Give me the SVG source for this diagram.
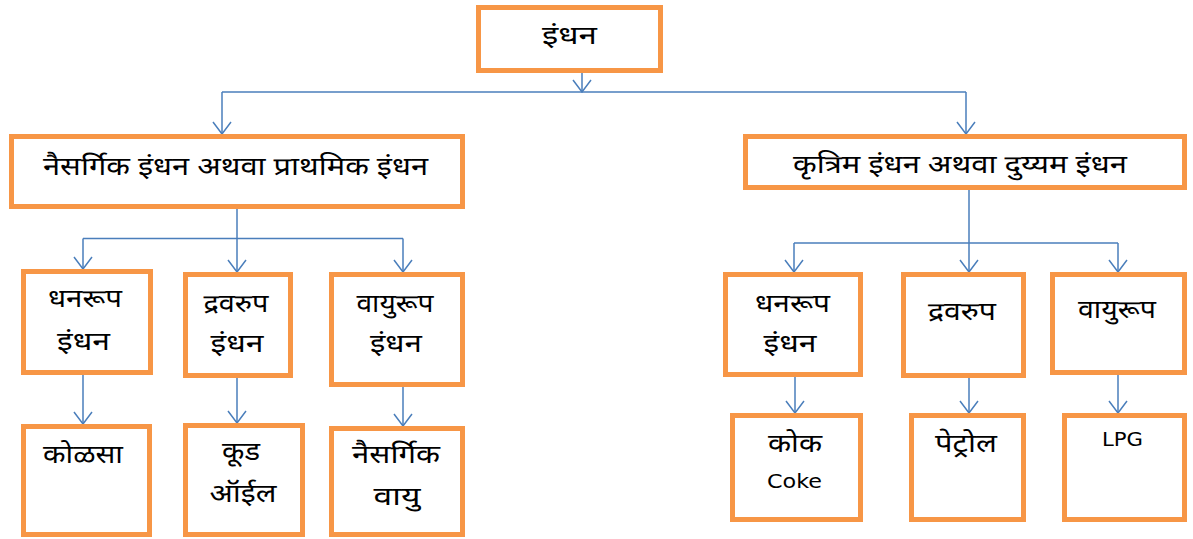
<svg xmlns="http://www.w3.org/2000/svg" width="1193" height="539" viewBox="0 0 1193 539">
  <style>
    .box { fill: #ffffff; stroke: #f79646; stroke-width: 5; }
    .lbl { font-family: "Noto Sans Devanagari", "Mangal", "Lohit Devanagari", "Noto Sans", sans-serif; font-size: 25px; fill: #000000; text-anchor: middle; }
    .lat { font-family: "DejaVu Sans", "Noto Sans", sans-serif; font-size: 20px; fill: #000000; text-anchor: middle; }
    .wire { fill: none; stroke: #4a7ebb; stroke-width: 1.5; }
  </style>
  <defs>
    <!-- open V arrowhead, drawn pointing along +x -->
    <marker id="arrow" viewBox="0 0 14 20" refX="13" refY="10" markerWidth="14" markerHeight="20" markerUnits="userSpaceOnUse" orient="auto">
      <path d="M1,1 L13,10 L1,19" fill="none" stroke="#4a7ebb" stroke-width="1.5"/>
    </marker>
  </defs>
  <rect width="1193" height="539" fill="#ffffff"/>

  <!-- connectors -->
  <g id="connectors" class="wire">
    <line x1="582" y1="73" x2="582" y2="92" marker-end="url(#arrow)"/>
    <line x1="222" y1="92" x2="966" y2="92"/>
    <line x1="222" y1="92" x2="222" y2="134" marker-end="url(#arrow)"/>
    <line x1="966" y1="92" x2="966" y2="134" marker-end="url(#arrow)"/>

    <line x1="237" y1="209" x2="237" y2="238.5"/>
    <line x1="83" y1="238.5" x2="403" y2="238.5"/>
    <line x1="83" y1="238.5" x2="83" y2="269" marker-end="url(#arrow)"/>
    <line x1="237" y1="238.5" x2="237" y2="272" marker-end="url(#arrow)"/>
    <line x1="403" y1="238.5" x2="403" y2="272" marker-end="url(#arrow)"/>

    <line x1="969" y1="190" x2="969" y2="243"/>
    <line x1="794" y1="243" x2="1118" y2="243"/>
    <line x1="794" y1="243" x2="794" y2="272" marker-end="url(#arrow)"/>
    <line x1="969" y1="243" x2="969" y2="272" marker-end="url(#arrow)"/>
    <line x1="1118" y1="243" x2="1118" y2="272" marker-end="url(#arrow)"/>

    <line x1="83" y1="375" x2="83" y2="424" marker-end="url(#arrow)"/>
    <line x1="237" y1="378" x2="237" y2="423" marker-end="url(#arrow)"/>
    <line x1="403" y1="387" x2="403" y2="426" marker-end="url(#arrow)"/>

    <line x1="795" y1="377" x2="795" y2="413" marker-end="url(#arrow)"/>
    <line x1="969" y1="378" x2="969" y2="413" marker-end="url(#arrow)"/>
    <line x1="1118" y1="375" x2="1118" y2="413" marker-end="url(#arrow)"/>
  </g>

  <!-- root -->
  <g id="fuel">
    <rect class="box" x="478.5" y="7.5" width="182" height="63"/>
    <text class="lbl" x="569.5" y="44" font-size="26" textLength="55" lengthAdjust="spacingAndGlyphs">इंधन</text>
  </g>

  <!-- second level -->
  <g id="natural-fuel">
    <rect class="box" x="11.5" y="136.5" width="451" height="70"/>
    <text class="lbl" x="235.5" y="175" textLength="385" lengthAdjust="spacingAndGlyphs">नैसर्गिक इंधन अथवा प्राथमिक इंधन</text>
  </g>
  <g id="artificial-fuel">
    <rect class="box" x="745.5" y="136.5" width="439" height="51"/>
    <text class="lbl" x="960" y="173" textLength="334" lengthAdjust="spacingAndGlyphs">कृत्रिम इंधन अथवा दुय्यम इंधन</text>
  </g>

  <!-- natural: third level -->
  <g id="nat-solid">
    <rect class="box" x="23.5" y="271.5" width="127" height="101"/>
    <text class="lbl" x="85" y="307" textLength="74" lengthAdjust="spacingAndGlyphs">धनरूप</text>
    <text class="lbl" x="83.5" y="350" textLength="53" lengthAdjust="spacingAndGlyphs">इंधन</text>
  </g>
  <g id="nat-liquid">
    <rect class="box" x="185.5" y="274.5" width="105" height="101"/>
    <text class="lbl" x="236" y="312" textLength="65" lengthAdjust="spacingAndGlyphs">द्रवरुप</text>
    <text class="lbl" x="237" y="352" textLength="53" lengthAdjust="spacingAndGlyphs">इंधन</text>
  </g>
  <g id="nat-gas">
    <rect class="box" x="331.5" y="274.5" width="131" height="110"/>
    <text class="lbl" x="395" y="312" textLength="77" lengthAdjust="spacingAndGlyphs">वायुरूप</text>
    <text class="lbl" x="396" y="352" textLength="52" lengthAdjust="spacingAndGlyphs">इंधन</text>
  </g>

  <!-- natural: examples -->
  <g id="coal">
    <rect class="box" x="23.5" y="426.5" width="126" height="108"/>
    <text class="lbl" x="83" y="463" textLength="80" lengthAdjust="spacingAndGlyphs">कोळसा</text>
  </g>
  <g id="crude-oil">
    <rect class="box" x="185.5" y="425.5" width="117" height="109"/>
    <text class="lbl" x="241" y="460" textLength="38" lengthAdjust="spacingAndGlyphs">कूड</text>
    <text class="lbl" x="243" y="502" textLength="67" lengthAdjust="spacingAndGlyphs">ऑईल</text>
  </g>
  <g id="natural-gas">
    <rect class="box" x="331.5" y="428.5" width="131" height="106"/>
    <text class="lbl" x="396" y="463" textLength="88" lengthAdjust="spacingAndGlyphs">नैसर्गिक</text>
    <text class="lbl" x="397" y="505" textLength="47" lengthAdjust="spacingAndGlyphs">वायु</text>
  </g>

  <!-- artificial: third level -->
  <g id="art-solid">
    <rect class="box" x="725.5" y="274.5" width="135" height="100"/>
    <text class="lbl" x="792.5" y="312" textLength="75" lengthAdjust="spacingAndGlyphs">धनरूप</text>
    <text class="lbl" x="790" y="352" textLength="53" lengthAdjust="spacingAndGlyphs">इंधन</text>
  </g>
  <g id="art-liquid">
    <rect class="box" x="903.5" y="274.5" width="120" height="101"/>
    <text class="lbl" x="962" y="320" textLength="68" lengthAdjust="spacingAndGlyphs">द्रवरुप</text>
  </g>
  <g id="art-gas">
    <rect class="box" x="1052.5" y="274.5" width="132" height="98"/>
    <text class="lbl" x="1117" y="318" textLength="78" lengthAdjust="spacingAndGlyphs">वायुरूप</text>
  </g>

  <!-- artificial: examples -->
  <g id="coke">
    <rect class="box" x="732.5" y="415.5" width="128" height="104"/>
    <text class="lbl" x="795" y="452" textLength="54" lengthAdjust="spacingAndGlyphs">कोक</text>
    <text class="lat" x="794.5" y="488" font-size="21" textLength="55" lengthAdjust="spacingAndGlyphs">Coke</text>
  </g>
  <g id="petrol">
    <rect class="box" x="911.5" y="415.5" width="112" height="104"/>
    <text class="lbl" x="966" y="452" textLength="62" lengthAdjust="spacingAndGlyphs">पेट्रोल</text>
  </g>
  <g id="lpg">
    <rect class="box" x="1064.5" y="415.5" width="120" height="104"/>
    <text class="lat" x="1122.5" y="446" textLength="41" lengthAdjust="spacingAndGlyphs">LPG</text>
  </g>
</svg>
